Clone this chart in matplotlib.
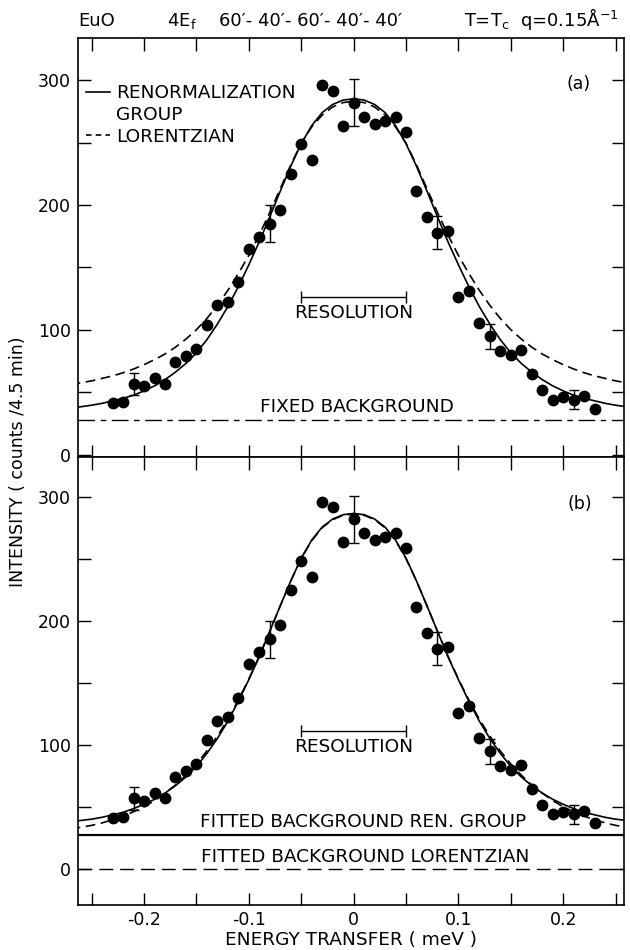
import matplotlib
matplotlib.use("Agg")
import matplotlib.pyplot as plt
from matplotlib.lines import Line2D
from matplotlib.ticker import MultipleLocator, FuncFormatter

plt.rcParams['font.family'] = ['DejaVu Sans']
plt.rcParams['lines.scale_dashes'] = False
plt.rcParams['axes.unicode_minus'] = False

# measured points (same scan shown in both panels)
energy = [-0.23, -0.22, -0.21, -0.20, -0.19, -0.18, -0.17, -0.16, -0.15, -0.14,
          -0.13, -0.12, -0.11, -0.10, -0.09, -0.08, -0.07, -0.06, -0.05, -0.04,
          -0.03, -0.02, -0.01, 0.00, 0.01, 0.02, 0.03, 0.04, 0.05, 0.06,
          0.07, 0.08, 0.09, 0.10, 0.11, 0.12, 0.13, 0.14, 0.15, 0.16,
          0.17, 0.18, 0.19, 0.20, 0.21, 0.22, 0.23]
counts = [41.2, 42.0, 56.7, 55.0, 61.2, 56.7, 73.8, 79.1, 84.5, 104.0,
          119.5, 122.2, 138.0, 165.0, 174.4, 185.0, 196.3, 225.0, 248.5, 235.6,
          296.1, 291.3, 263.2, 281.9, 270.7, 265.0, 267.2, 270.4, 258.4, 211.0,
          190.1, 177.6, 178.9, 126.0, 131.3, 105.4, 94.6, 82.6, 79.9, 83.4,
          64.4, 51.8, 43.8, 46.0, 43.8, 46.5, 36.6]

# points that carry an error bar, and the half length of the bar
err_energy = [-0.21, -0.08, 0.00, 0.08, 0.13, 0.21]
err_sigma = [9.0, 14.7, 19.0, 13.3, 10.0, 7.6]

# fitted curves
curve_energy = [-0.27, -0.26, -0.25, -0.24, -0.23, -0.22, -0.21, -0.20, -0.19, -0.18,
                -0.17, -0.16, -0.15, -0.14, -0.13, -0.12, -0.11, -0.10, -0.09, -0.08,
                -0.07, -0.06, -0.05, -0.04, -0.03, -0.02, -0.01, 0.00, 0.01, 0.02,
                0.03, 0.04, 0.05, 0.06, 0.07, 0.08, 0.09, 0.10, 0.11, 0.12,
                0.13, 0.14, 0.15, 0.16, 0.17, 0.18, 0.19, 0.20, 0.21, 0.22,
                0.23, 0.24, 0.25, 0.26, 0.27]
rg_a = [37.3, 38.3, 39.5, 41, 43, 45, 47.5, 51, 55, 60,
        66, 73, 81.5, 92, 104.5, 118.5, 134.5, 152, 170.5, 190.5,
        211, 231, 249, 263.5, 274, 280.5, 284, 285, 284, 280.5,
        274, 263.5, 249, 231, 211, 190.5, 170.5, 152, 134.5, 118.5,
        104.5, 92, 81.5, 73, 66, 60, 55, 51, 47.5, 45,
        43, 41, 39.5, 38.3, 37.3]
lor_a = [56, 57.5, 59, 61, 63, 65.5, 68.5, 72, 76, 80.5,
         86, 92.5, 100, 109, 119.5, 131.5, 145, 159.5, 176, 194,
         213, 232, 249.5, 262.5, 272, 278.5, 282, 283, 282, 278.5,
         272, 262.5, 249.5, 232, 213, 194, 176, 159.5, 145, 131.5,
         119.5, 109, 100, 92.5, 86, 80.5, 76, 72, 68.5, 65.5,
         63, 61, 59, 57.5, 56]
rg_b = [38, 39, 40, 41.5, 43.5, 45.5, 48.5, 52, 56, 61,
        67, 74, 82.5, 93, 105, 119, 135, 152.5, 171, 191.5,
        212, 232, 250.5, 265, 275.5, 282, 285.5, 286.5, 285.5, 282,
        275.5, 265, 250.5, 232, 212, 191.5, 171, 152.5, 135, 119,
        105, 93, 82.5, 74, 67, 61, 56, 52, 48.5, 45.5,
        43.5, 41.5, 40, 39, 38]
lor_b = [32, 33.5, 35, 37, 39.5, 42.5, 46, 50, 55, 61,
         67.5, 75.5, 84.5, 95, 107, 120.5, 136, 153, 171.5, 191.5,
         212, 232, 250, 264.5, 275, 281.5, 285, 286, 285, 281.5,
         275, 264.5, 250, 232, 212, 191.5, 171.5, 153, 136, 120.5,
         107, 95, 84.5, 75.5, 67.5, 61, 55, 50, 46, 42.5,
         39.5, 37, 35, 33.5, 32]

fixed_bg = 28.0
rg_fitted_bg = 27.4
lor_fitted_bg = 0.0
resolution_hw = 0.05

W, H = 630, 950
fig = plt.figure(figsize=(W / 100, H / 100), dpi=100)


def box(x0, y0, x1, y1):
    return [x0 / W, 1 - y1 / H, (x1 - x0) / W, (y1 - y0) / H]


ax_a = fig.add_axes(box(78, 38.3, 624, 457))
ax_b = fig.add_axes(box(78, 457, 624, 904.5))

FS = 12.5   # tick labels
TS = 13.3   # lettering inside the plot
dash = (7, 4)


def xfmt(v, pos):
    if abs(v) < 1e-9:
        return '0'
    return '%.1f' % v


def draw_points(ax):
    ax.plot(energy, counts, 'o', color='k', ms=7.5, zorder=4)
    ey = [counts[energy.index(e)] for e in err_energy]
    ax.errorbar(err_energy, ey, yerr=err_sigma, fmt='none', ecolor='k',
                elinewidth=1.0, capsize=3.8, capthick=1.0, zorder=4)


def style(ax, ylim, show_x):
    ax.set_xlim(-0.263, 0.258)
    ax.set_ylim(*ylim)
    ax.xaxis.set_major_locator(MultipleLocator(0.1))
    ax.xaxis.set_minor_locator(MultipleLocator(0.05))
    ax.yaxis.set_major_locator(MultipleLocator(100))
    ax.yaxis.set_minor_locator(MultipleLocator(50))
    ax.xaxis.set_major_formatter(FuncFormatter(xfmt))
    ax.tick_params(which='both', direction='in', top=True, right=True,
                   length=9, width=1.0, labelsize=FS, pad=5)
    if not show_x:
        ax.tick_params(axis='x', labelbottom=False)
    for s in ax.spines.values():
        s.set_linewidth(1.2)


# panel (a)
draw_points(ax_a)
ax_a.plot(curve_energy, rg_a, color='k', lw=1.2)
ax_a.plot(curve_energy, lor_a, color='k', lw=1.2, dashes=dash)
ax_a.axhline(fixed_bg, color='k', lw=1.0, dashes=(12, 4, 4, 4))
ax_a.errorbar([0], [126], xerr=[resolution_hw], fmt='none', ecolor='k',
              elinewidth=1.0, capsize=4, capthick=1.0)
ax_a.text(0, 113, 'RESOLUTION', ha='center', va='center', fontsize=TS)
ax_a.text(0.003, 37.7, 'FIXED BACKGROUND', ha='center', va='center', fontsize=TS)
ax_a.text(0.215, 296.5, '(a)', ha='center', va='center', fontsize=FS)
handles = [Line2D([], [], color='k', lw=1.2),
           Line2D([], [], color='none'),
           Line2D([], [], color='k', lw=1.2, dashes=(4, 3))]
ax_a.legend(handles, ['RENORMALIZATION', 'GROUP', 'LORENTZIAN'],
            loc='upper left', bbox_to_anchor=(0.014, 0.89), frameon=False,
            fontsize=TS, handlelength=1.3, handletextpad=0.35,
            labelspacing=0.2, borderaxespad=0, borderpad=0)
style(ax_a, (-2, 333.5), False)

# panel (b)
draw_points(ax_b)
ax_b.plot(curve_energy, rg_b, color='k', lw=1.2)
ax_b.plot(curve_energy, lor_b, color='k', lw=1.2, dashes=dash)
ax_b.axhline(rg_fitted_bg, color='k', lw=1.6)
ax_b.axhline(lor_fitted_bg, color='k', lw=1.0, dashes=(10, 5))
ax_b.errorbar([0], [111], xerr=[resolution_hw], fmt='none', ecolor='k',
              elinewidth=1.0, capsize=4, capthick=1.0)
ax_b.text(0, 98, 'RESOLUTION', ha='center', va='center', fontsize=TS)
ax_b.text(0.009, 37.9, 'FITTED BACKGROUND REN. GROUP', ha='center',
          va='center', fontsize=TS)
ax_b.text(0.011, 9.2, 'FITTED BACKGROUND LORENTZIAN', ha='center',
          va='center', fontsize=TS)
ax_b.text(0.216, 294.5, '(b)', ha='center', va='center', fontsize=FS)
style(ax_b, (-28.8, 332), True)
ax_b.set_xlabel('ENERGY TRANSFER ( meV )', fontsize=TS, labelpad=1)

fig.text(18 / W, 1 - 462 / H, 'INTENSITY ( counts /4.5 min)', rotation=90,
         ha='center', va='center', fontsize=FS)

# header line
hy = 1 - 26 / H
fig.text(78 / W, hy, 'EuO', fontsize=13, va='baseline')
fig.text(167 / W, hy, '4E$_\\mathrm{f}$', fontsize=13, va='baseline')
fig.text(219 / W, hy, '60\u2032- 40\u2032- 60\u2032- 40\u2032- 40\u2032', fontsize=13,
         va='baseline')
fig.text(464 / W, hy, 'T=T$_\\mathrm{c}$', fontsize=13, va='baseline')
fig.text(520 / W, hy, 'q=0.15$\\mathrm{\\AA}^{-1}$', fontsize=13, va='baseline')

fig.savefig('out.png', dpi=100)
